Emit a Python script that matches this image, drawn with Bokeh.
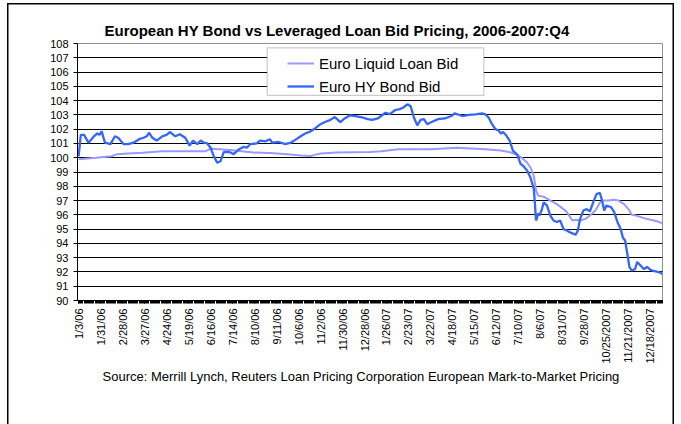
import math
from bokeh.plotting import figure
from bokeh.models import Range1d, FixedTicker, Legend, LegendItem, BoxAnnotation, Title
from bokeh.embed import file_html
from bokeh.resources import INLINE

# ---------------- data ----------------
tick_labels = ["1/3/06", "1/31/06", "2/28/06", "3/27/06", "4/24/06", "5/19/06", "6/16/06",
               "7/14/06", "8/10/06", "9/11/06", "10/6/06", "11/2/06", "11/30/06", "12/28/06",
               "1/26/07", "2/23/07", "3/22/07", "4/18/07", "5/15/07", "6/12/07", "7/10/07",
               "8/6/07", "8/31/07", "9/28/07", "10/25/2007", "11/21/2007", "12/18/2007"]
days_per_label = 20  # trading days between labelled dates
last_day = 531

bond_day = [0, 2, 5, 9, 14, 17, 19, 21, 24, 29, 33, 36, 41, 45, 50, 55, 59, 62, 64, 67, 71, 76, 80,
            83, 88, 92, 97, 101, 104, 108, 111, 114, 117, 120, 123, 126, 129, 132, 137, 141, 146,
            150, 153, 156, 162, 165, 170, 174, 176, 182, 188, 193, 197, 202, 206, 211, 215, 220,
            224, 229, 233, 238, 242, 247, 253, 259, 263, 267, 272, 279, 283, 288, 292, 295, 299,
            302, 305, 308, 311, 314, 317, 321, 327, 333, 339, 342, 349, 355, 361, 367, 370, 373,
            376, 379, 382, 384, 386, 389, 392, 395, 399, 402, 404, 408, 411, 414, 415, 416, 418,
            419, 421, 423, 426, 429, 432, 435, 438, 441, 444, 447, 452, 454, 456, 459, 462, 465,
            468, 471, 474, 476, 478, 480, 484, 487, 490, 493, 495, 497, 499, 501, 503, 506, 508,
            511, 514, 517, 520, 524, 529, 531]
bond_bid = [100.1, 101.6, 101.6, 101.05, 101.5, 101.7, 101.6, 101.85, 101.05, 100.95, 101.5, 101.4,
            100.95, 100.95, 101.05, 101.3, 101.4, 101.5, 101.75, 101.4, 101.2, 101.5, 101.6, 101.8,
            101.5, 101.65, 101.4, 100.85, 101.2, 100.95, 101.2, 101.05, 101.0, 100.7, 100.1, 99.65,
            99.75, 100.4, 100.4, 100.25, 100.6, 100.76, 100.7, 100.95, 101.0, 101.2, 101.15, 101.3,
            101.05, 101.1, 100.95, 101.05, 101.25, 101.5, 101.7, 101.85, 102.05, 102.35, 102.5,
            102.65, 102.85, 102.5, 102.75, 102.97, 102.9, 102.8, 102.7, 102.65, 102.75, 103.15,
            103.05, 103.34, 103.4, 103.5, 103.74, 103.6, 102.8, 102.27, 102.65, 102.7, 102.35,
            102.5, 102.7, 102.75, 102.92, 103.1, 102.92, 103.0, 103.03, 103.1, 103.03, 102.8,
            102.35, 102.0, 101.9, 101.7, 101.8, 101.55, 101.2, 100.5, 100.2, 99.55, 99.45, 99.08,
            98.6, 97.8, 96.75, 95.6, 96.1, 95.95, 96.3, 96.87, 96.65, 95.95, 95.6, 95.5, 95.6,
            95.0, 94.9, 94.77, 94.6, 94.9, 95.7, 96.3, 96.4, 96.25, 96.87, 97.45, 97.55, 97.0,
            96.3, 96.65, 96.55, 96.2, 95.5, 95.0, 94.4, 94.2, 93.27, 92.33, 92.1, 92.2, 92.7,
            92.45, 92.2, 92.35, 92.15, 92.05, 91.95, 91.85]

loan_day = [0, 8, 16, 30, 35, 45, 58, 76, 100, 115, 118, 120, 126, 129, 135, 144, 159, 174, 190,
            202, 211, 215, 220, 235, 265, 275, 291, 320, 344, 370, 384, 393, 399, 403, 408, 411,
            414, 416, 418, 423, 429, 435, 441, 444, 449, 452, 456, 461, 465, 470, 474, 477, 482,
            487, 491, 496, 500, 503, 508, 514, 520, 526, 531]
loan_bid = [99.9, 99.95, 100.0, 100.1, 100.25, 100.3, 100.35, 100.45, 100.45, 100.45, 100.55,
            100.65, 100.6, 100.6, 100.55, 100.48, 100.36, 100.33, 100.25, 100.15, 100.12, 100.2,
            100.3, 100.36, 100.4, 100.45, 100.6, 100.6, 100.7, 100.6, 100.5, 100.37, 100.2, 100.0,
            99.65, 99.3, 98.72, 97.7, 97.33, 97.27, 97.0, 96.75, 96.4, 96.2, 95.6, 95.65, 95.6,
            95.72, 95.95, 96.3, 96.85, 97.0, 97.0, 97.05, 97.0, 96.75, 96.4, 96.0, 95.93, 95.77,
            95.65, 95.55, 95.4]

series_names = ["Euro Liquid Loan Bid", "Euro HY Bond Bid"]
series_colors = ["#9999FF", "#3366FF"]

y_min, y_max = 90, 108

title_text = "European HY Bond vs Leveraged Loan Bid Pricing, 2006-2007:Q4"
source_text = "Source:  Merrill Lynch, Reuters Loan Pricing Corporation European Mark-to-Market Pricing"

FONT = "Liberation Sans"

p = figure(width=667, height=421, output_backend="svg", toolbar_location=None,
           x_range=Range1d(-1, last_day), y_range=Range1d(y_min, y_max),
           min_border_left=70, min_border_right=12, min_border_top=40, min_border_bottom=124,
           background_fill_color="white", border_fill_color=None)
p.styles = {"margin-left": "7px", "margin-top": "3px",
            "box-shadow": "inset 1.5px 0 0 0 #000, inset -1.5px 0 0 0 #000, inset 0 1.5px 0 0 #000"}
p.outline_line_color = "#909090"
p.outline_line_width = 1

# y axis
p.yaxis.ticker = FixedTicker(ticks=list(range(y_min, y_max + 1)))
p.yaxis.major_label_text_font = FONT
p.yaxis.major_label_text_font_size = "11px"
p.yaxis.major_label_text_color = "black"
p.yaxis.axis_line_color = "black"
p.yaxis.major_tick_line_color = "black"
p.yaxis.major_tick_out = 4
p.yaxis.major_tick_in = 0
p.yaxis.minor_tick_line_color = None
p.yaxis.major_label_standoff = 5

# x axis
major = [i * days_per_label for i in range(len(tick_labels))]
p.xaxis.ticker = FixedTicker(ticks=major, minor_ticks=list(range(0, last_day + 1)))
p.xaxis.major_label_overrides = {m: lab for m, lab in zip(major, tick_labels)}
p.xaxis.major_label_orientation = math.pi / 2
p.xaxis.major_label_text_font = FONT
p.xaxis.major_label_text_font_size = "11px"
p.xaxis.major_label_text_color = "black"
p.xaxis.axis_line_color = "black"
p.xaxis.major_tick_line_color = "black"
p.xaxis.minor_tick_line_color = "black"
p.xaxis.major_tick_out = 3
p.xaxis.major_tick_in = 0
p.xaxis.minor_tick_out = 3
p.xaxis.minor_tick_in = 0
p.xaxis.major_label_standoff = 5

p.xgrid.grid_line_color = None
p.ygrid.ticker = FixedTicker(ticks=list(range(y_min + 1, y_max)))
p.ygrid.grid_line_color = "black"
p.ygrid.grid_line_width = 1

loan = p.line(loan_day, loan_bid, line_color=series_colors[0], line_width=2)
bond = p.line(bond_day, bond_bid, line_color=series_colors[1], line_width=2.3)

# legend frame
box = BoxAnnotation(left=171.5, right=368.5, top=107.7, bottom=104.36,
                    fill_color="white", fill_alpha=1, line_color="#555555", line_width=1.2,
                    level="annotation")
p.add_layout(box)

legend = Legend(items=[LegendItem(label=series_names[0], renderers=[loan]),
                       LegendItem(label=series_names[1], renderers=[bond])],
                location=(210, 204), padding=3, spacing=3, glyph_width=27, glyph_height=20,
                label_height=20, label_standoff=5, label_text_font=FONT,
                label_text_font_size="15px", label_text_color="black",
                border_line_color=None, background_fill_alpha=0, margin=0)
p.add_layout(legend, "center")

title = Title(text=title_text, align="left", offset=27, standoff=9,
              text_font=FONT, text_font_size="15px", text_font_style="bold", text_color="black")
p.add_layout(title, "above")

source = Title(text=source_text, align="left", offset=25, standoff=0,
               text_font=FONT, text_font_size="13px", text_font_style="normal",
               text_color="black")
p.add_layout(source, "below")

open("out.html", "w").write(file_html(p, INLINE))
